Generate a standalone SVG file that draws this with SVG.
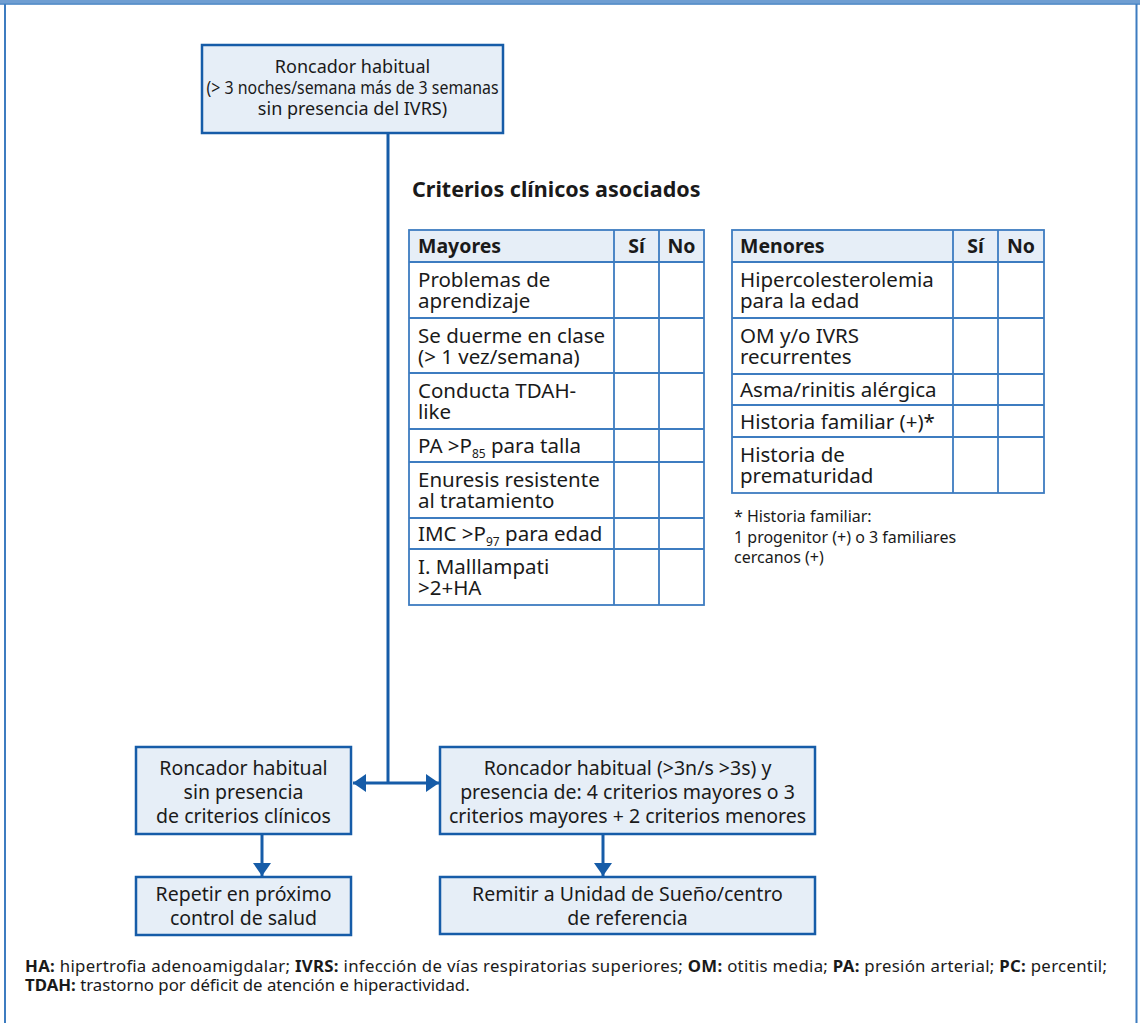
<svg xmlns="http://www.w3.org/2000/svg" width="1140" height="1023" viewBox="0 0 1140 1023">
<style>
  text { font-family: "Noto Sans", "Open Sans", "Liberation Sans", sans-serif; fill: #1a1a1a; }
  .box { fill: #e6eef7; stroke: #165ca8; stroke-width: 2.5; }
  .bt { font-size: 19.5px; text-anchor: middle; }
  .tt { font-size: 18px; text-anchor: middle; }
  .cell { font-size: 20.5px; }
  .hdr { font-size: 19.5px; font-weight: bold; }
  .hdrc { font-size: 19.5px; font-weight: bold; text-anchor: middle; }
  .grid { fill: none; stroke: #3d7cc0; stroke-width: 1.8; }
  .hfill { fill: #e6eef7; }
  .sub { font-size: 12px; }
  .conn { fill: none; stroke: #165ca8; stroke-width: 3; }
  .foot { font-size: 16.8px; }
  .note { font-size: 16px; }
</style>
<defs>
  <marker id="ah" viewBox="0 0 13 18" refX="13" refY="9" markerWidth="13" markerHeight="18" markerUnits="userSpaceOnUse" orient="auto">
    <path d="M0,0 L13,9 L0,18 Z" fill="#165ca8"/>
  </marker>
</defs>

<g id="frame">
  <rect x="0" y="0" width="1140" height="3.5" fill="#6f9ed2"/>
  <line x1="0" y1="4" x2="1140" y2="4" stroke="#3d7cc0" stroke-width="1.5"/>
  <line x1="5" y1="4" x2="5" y2="1023" stroke="#3d7cc0" stroke-width="2"/>
  <line x1="1136.5" y1="4" x2="1136.5" y2="1023" stroke="#3d7cc0" stroke-width="2"/>
</g>

<g id="connectors">
  <line class="conn" x1="388" y1="134" x2="388" y2="783"/>
  <line class="conn" x1="388" y1="783" x2="353" y2="783" marker-end="url(#ah)"/>
  <line class="conn" x1="388" y1="783" x2="439" y2="783" marker-end="url(#ah)"/>
  <line class="conn" x1="262" y1="835" x2="262" y2="876" marker-end="url(#ah)"/>
  <line class="conn" x1="603" y1="835" x2="603" y2="876" marker-end="url(#ah)"/>
</g>

<g id="n-top">
  <rect class="box" x="202" y="45" width="301" height="88"/>
  <text class="tt" x="352.5" y="73">Roncador habitual</text>
  <text class="tt" x="352.5" y="94" textLength="292" lengthAdjust="spacingAndGlyphs">(&gt; 3 noches/semana más de 3 semanas</text>
  <text class="tt" x="352.5" y="115">sin presencia del IVRS)</text>
</g>

<g id="title">
  <text x="412" y="197" style="font-size:21.5px;font-weight:bold">Criterios clínicos asociados</text>
</g>

<g id="t-mayores">
  <rect class="hfill" x="409" y="230" width="295" height="32"/>
  <rect class="grid" x="409" y="230" width="295" height="375"/>
  <path class="grid" d="M614,230 V605 M659,230 V605 M409,262 H704 M409,318 H704 M409,373 H704 M409,429 H704 M409,462 H704 M409,518 H704 M409,549 H704"/>
  <text class="hdr" x="418" y="253">Mayores</text>
  <text class="hdrc" x="636.5" y="253">Sí</text>
  <text class="hdrc" x="681.5" y="253">No</text>
  <text class="cell" x="418" y="287">Problemas de</text>
  <text class="cell" x="418" y="308">aprendizaje</text>
  <text class="cell" x="418" y="343">Se duerme en clase</text>
  <text class="cell" x="418" y="364">(&gt; 1 vez/semana)</text>
  <text class="cell" x="418" y="398">Conducta TDAH-</text>
  <text class="cell" x="418" y="419">like</text>
  <text class="cell" x="418" y="453">PA &gt;P<tspan class="sub" dy="5">85</tspan><tspan dy="-5"> para talla</tspan></text>
  <text class="cell" x="418" y="487">Enuresis resistente</text>
  <text class="cell" x="418" y="508">al tratamiento</text>
  <text class="cell" x="418" y="541">IMC &gt;P<tspan class="sub" dy="5">97</tspan><tspan dy="-5"> para edad</tspan></text>
  <text class="cell" x="418" y="574">I. Malllampati</text>
  <text class="cell" x="418" y="595">&gt;2+HA</text>
</g>

<g id="t-menores">
  <rect class="hfill" x="732" y="230" width="312" height="32"/>
  <rect class="grid" x="732" y="230" width="312" height="263"/>
  <path class="grid" d="M953,230 V493 M998,230 V493 M732,262 H1044 M732,318 H1044 M732,374 H1044 M732,405 H1044 M732,437 H1044"/>
  <text class="hdr" x="740" y="253">Menores</text>
  <text class="hdrc" x="975.5" y="253">Sí</text>
  <text class="hdrc" x="1021" y="253">No</text>
  <text class="cell" x="740" y="287">Hipercolesterolemia</text>
  <text class="cell" x="740" y="308">para la edad</text>
  <text class="cell" x="740" y="343">OM y/o IVRS</text>
  <text class="cell" x="740" y="364">recurrentes</text>
  <text class="cell" x="740" y="397">Asma/rinitis alérgica</text>
  <text class="cell" x="740" y="429">Historia familiar (+)*</text>
  <text class="cell" x="740" y="462">Historia de</text>
  <text class="cell" x="740" y="483">prematuridad</text>
</g>

<g id="note">
  <text class="note" x="734" y="522">* Historia familiar:</text>
  <text class="note" x="734" y="543">1 progenitor (+) o 3 familiares</text>
  <text class="note" x="734" y="563">cercanos (+)</text>
</g>

<g id="n-sin">
  <rect class="box" x="136" y="747" width="215" height="87"/>
  <text class="bt" x="243.5" y="775">Roncador habitual</text>
  <text class="bt" x="243.5" y="799">sin presencia</text>
  <text class="bt" x="243.5" y="823">de criterios clínicos</text>
</g>

<g id="n-con">
  <rect class="box" x="440" y="747" width="375" height="87"/>
  <text class="bt" x="627.5" y="775">Roncador habitual (&gt;3n/s &gt;3s) y</text>
  <text class="bt" x="627.5" y="799">presencia de: 4 criterios mayores o 3</text>
  <text class="bt" x="627.5" y="823">criterios mayores + 2 criterios menores</text>
</g>

<g id="n-repetir">
  <rect class="box" x="136" y="877" width="215" height="58"/>
  <text class="bt" x="243.5" y="901">Repetir en próximo</text>
  <text class="bt" x="243.5" y="925">control de salud</text>
</g>

<g id="n-remitir">
  <rect class="box" x="440" y="877" width="375" height="57"/>
  <text class="bt" x="627.5" y="901">Remitir a Unidad de Sueño/centro</text>
  <text class="bt" x="627.5" y="925">de referencia</text>
</g>

<g id="footer">
  <text class="foot" x="25" y="972" textLength="1082" lengthAdjust="spacing"><tspan font-weight="bold">HA:</tspan> hipertrofia adenoamigdalar; <tspan font-weight="bold">IVRS:</tspan> infección de vías respiratorias superiores; <tspan font-weight="bold">OM:</tspan> otitis media; <tspan font-weight="bold">PA:</tspan> presión arterial; <tspan font-weight="bold">PC:</tspan> percentil;</text>
  <text class="foot" x="25" y="991"><tspan font-weight="bold">TDAH:</tspan> trastorno por déficit de atención e hiperactividad.</text>
</g>
</svg>
